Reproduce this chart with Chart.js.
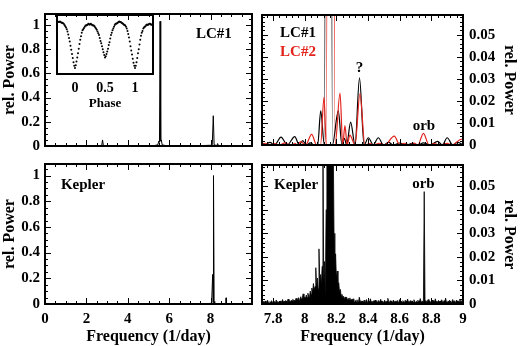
<!DOCTYPE html>
<html>
<head>
<meta charset="utf-8">
<script src="https://cdn.jsdelivr.net/npm/chart.js@4.4.1/dist/chart.umd.min.js"></script>
<style>
  body { margin: 0; background: #fff; }
  #fig { position: relative; width: 520px; height: 346px; overflow: hidden; }
  #fig canvas { position: absolute; }
</style>
</head>
<body>
<div id="fig">
  <canvas id="lcFull" width="256" height="160" style="left:0;top:0"></canvas>
  <canvas id="lcZoom" width="264" height="160" style="left:256px;top:0"></canvas>
  <canvas id="kepFull" width="256" height="196" style="left:0;top:150px"></canvas>
  <canvas id="kepZoom" width="264" height="196" style="left:256px;top:150px"></canvas>
  <canvas id="phase" width="110" height="103" style="left:50px;top:10px"></canvas>
</div>
<script>
// LC#1 amplitude spectrum, full range (1/day, rel. power)
const lc1Freq  = [0, 0.5, 1.0, 1.5, 2.0, 2.5, 2.74, 2.78, 2.82, 3.2, 4.0, 4.8, 5.3, 5.45, 5.5, 5.53, 5.56, 5.59, 5.62, 5.66, 5.8, 6.5, 7.5, 8.0, 8.08, 8.13, 8.17, 8.3, 8.34, 8.38, 9.0, 10];
const lc1Power = [0.002, 0.001, 0.003, 0.002, 0.002, 0.003, 0.004, 0.05, 0.004, 0.002, 0.002, 0.003, 0.004, 0.01, 0.04, 0.03, 1.03, 0.04, 0.05, 0.01, 0.004, 0.002, 0.003, 0.006, 0.01, 0.25, 0.01, 0.003, 0.02, 0.003, 0.002, 0.001];

// Kepler spectrum, full range
const keplerFreq  = [0, 0.5, 1.1, 1.15, 1.2, 1.65, 1.7, 1.75, 2.7, 2.75, 2.8, 4.0, 5.5, 6.5, 7.8, 8.05, 8.1, 8.12, 8.14, 8.17, 8.2, 8.74, 8.75, 8.76, 9.5, 10];
const keplerPower = [0.001, 0.0005, 0.001, 0.006, 0.001, 0.001, 0.005, 0.001, 0.001, 0.004, 0.001, 0.001, 0.002, 0.001, 0.002, 0.006, 0.23, 0.01, 1.0, 0.02, 0.004, 0.001, 0.048, 0.001, 0.001, 0.0005];

// zoom around the main peak: LC#1 and LC#2
const lc1ZoomFreq  = [7.73, 7.75, 7.78, 7.81, 7.85, 7.89, 7.937, 7.965, 7.987, 8.01, 8.035, 8.06, 8.082, 8.101, 8.124, 8.15, 8.175, 8.212, 8.235, 8.25, 8.265, 8.29, 8.318, 8.346, 8.375, 8.402, 8.433, 8.465, 8.497, 8.53, 8.56, 8.6, 8.64, 8.68, 8.715, 8.75, 8.79, 8.84, 8.87, 8.9, 8.935, 8.965, 9.0];
const lc1ZoomPower = [0.001, 0.0002, 0.0012, 0, 0.0036, 0, 0.0038, 0, 0.002, 0, 0.001, 0, 0, 0.0155, 0, 1.0, 0, 0.0155, 0, 0.003, 0, 0.0104, 0, 0.0305, 0, 0.0033, 0, 0.0033, 0, 0.0012, 0, 0.0009, 0, 0.0007, 0, 0.001, 0, 0.0016, 0, 0.0033, 0, 0.0012, 0.0002];
const lc2ZoomFreq  = [7.73, 7.75, 7.78, 7.81, 7.84, 7.875, 7.91, 7.94, 7.955, 7.975, 8.005, 8.044, 8.075, 8.10, 8.122, 8.136, 8.163, 8.192, 8.223, 8.24, 8.254, 8.268, 8.285, 8.318, 8.349, 8.38, 8.41, 8.44, 8.47, 8.505, 8.566, 8.6, 8.63, 8.66, 8.69, 8.715, 8.75, 8.785, 8.82, 8.85, 8.9, 8.93, 8.99, 9.0];
const lc2ZoomPower = [0.0002, 0.0008, 0, 0.0006, 0, 0.001, 0, 0.0006, 0, 0.0015, 0, 0.0048, 0, 0, 0.0217, 0, 1.0, 0, 0.0236, 0, 0.0088, 0, 0.0045, 0, 0.0233, 0, 0.0006, 0, 0.0008, 0, 0.004, 0, 0.0008, 0, 0.0009, 0, 0.0053, 0, 0.0006, 0, 0.0007, 0, 0.0026, 0.0024];

// Kepler zoom, sampled every 0.005 1/day from 7.73
const kepZoomStart = 7.73;
const kepZoomStep = 0.005;
const kepZoomPower = [
  0.0008,0.0004,0.0011,0.0006,0.0013,0.0005,0.0009,0.0016,0.0007,0.0003,
  0.0010,0.0006,0.0014,0.0008,0.0005,0.0012,0.0009,0.0004,0.0017,0.0007,
  0.0011,0.0005,0.0009,0.0013,0.0006,0.0010,0.0019,0.0008,0.0012,0.0006,
  0.0015,0.0009,0.0011,0.0021,0.0010,0.0014,0.0008,0.0016,0.0012,0.0020,
  0.0011,0.0017,0.0013,0.0024,0.0015,0.0019,0.0027,0.0016,
  0.0022,0.0031,0.0018,0.0026,0.0043,0.0021,0.0030,0.0024,0.0038,0.0027,0.0046,0.0032,0.0029,
  0.0055,0.0041,0.0068,0.0049,0.0087,0.0060,0.0074,
  0.0154,0.0072,0.0110,0.0065,0.0234,0.0090,0.0125,0.0082,0.0160,0.0700,0.0100,0.0180,0.0030,0.0400,
  0.090,0.075,0.100,0.080,0.110,0.065,0.095,0.085,0.070,
  0.0300,0.0175,0.0213,0.0110,0.0140,0.0075,0.0090,0.0050,0.0062,0.0035,
  0.0041,0.0026,0.0033,0.0019,0.0030,0.0022,0.0028,0.0015,0.0024,0.0018,0.0026,0.0012,0.0020,0.0016,0.0022,
  0.0012,0.0007,0.0015,0.0009,0.0018,0.0006,0.0011,0.0029,0.0010,0.0014,
  0.0008,0.0013,0.0005,0.0016,0.0010,0.0007,0.0019,0.0011,0.0006,0.0013,
  0.0009,0.0022,0.0008,0.0012,0.0005,0.0014,0.0010,0.0017,0.0007,0.0011,
  0.0006,0.0015,0.0009,0.0012,0.0020,0.0008,0.0013,0.0006,0.0010,0.0016,
  0.0007,0.0012,0.0009,0.0024,0.0011,0.0006,0.0014,0.0008,0.0012,0.0005,
  0.0017,0.0010,0.0007,0.0013,0.0009,0.0015,0.0006,0.0011,0.0019,0.0008,
  0.0012,0.0007,0.0014,0.0010,0.0005,0.0016,0.0009,0.0012,0.0021,0.0008,
  0.0011,0.0006,0.0015,0.0009,0.0013,0.0007,0.0018,0.0010,0.0006,0.0012,
  0.0009,0.0016,0.0008,0.0011,0.0023,0.0010,0.0007,0.0013,0.0009,
  0.0477,
  0.0010,0.0015,0.0007,0.0012,0.0019,0.0008,0.0013,0.0006,0.0011,0.0017,
  0.0009,0.0014,0.0007,0.0022,0.0010,0.0012,0.0006,0.0015,0.0009,0.0013,
  0.0008,0.0018,0.0011,0.0006,0.0014,0.0009,0.0025,0.0010,0.0007,0.0013,
  0.0008,0.0016,0.0011,0.0006,0.0012,0.0019,0.0009,0.0014,0.0007,0.0011,
  0.0017,0.0008,0.0013,0.0010,0.0021,0.0009,0.0012,0.0015,0.0008
];

// inset: phased light curve, every 0.0125 in phase from -0.3
const phaseStart = -0.3;
const phaseStep = 0.0125;
const phaseFlux = [
  0.87,0.89,0.88,0.88,0.89,0.88,0.87,0.87,0.86,0.85,0.83,0.81,
  0.79,0.76,0.72,0.67,0.61,0.55,0.48,0.41,0.34,0.27,0.20,0.14,
  0.10,0.15,0.21,0.28,0.35,0.43,0.51,0.58,0.64,0.70,0.74,0.76,
  0.78,0.80,0.82,0.82,0.83,0.84,0.85,0.84,0.84,0.85,0.84,0.83,
  0.82,0.82,0.81,0.79,0.77,0.75,0.72,0.69,0.66,0.61,0.56,0.52,
  0.47,0.42,0.37,0.32,0.28,0.30,0.34,0.38,0.43,0.49,0.54,0.60,
  0.66,0.70,0.74,0.77,0.80,0.83,0.85,0.85,0.86,0.87,0.88,0.89,
  0.88,0.88,0.87,0.86,0.85,0.84,0.83,0.82,0.80,0.77,0.73,0.68,
  0.62,0.55,0.47,0.40,0.33,0.26,0.19,0.14,0.10,0.14,0.20,0.27,
  0.35,0.42,0.50,0.58,0.65,0.70,0.73,0.77,0.79,0.80,0.81,0.83,
  0.84,0.83,0.84,0.85,0.85,0.84,0.84,0.83,0.82
];

// tick labels
const fullTicksX = [0, 2, 4, 6, 8];
const powerTicks = [0, 0.2, 0.4, 0.6, 0.8, 1];
const zoomTicksX = [7.8, 8, 8.2, 8.4, 8.6, 8.8, 9];
const zoomPowerTicks = [0, 0.01, 0.02, 0.03, 0.04, 0.05];
const phaseTicks = [0, 0.5, 1];

const RED = '#e3231c';

Chart.defaults.font.family = "'Liberation Serif', 'Times New Roman', serif";
Chart.defaults.font.weight = 'bold';
Chart.defaults.color = '#000';

const fmt = v => String(+Number(v).toFixed(3));
const pts = (xs, ys) => xs.map((x, i) => ({x: x, y: ys[i]}));

function steps(min, max, step) {
  const out = [];
  for (let k = Math.ceil(min / step - 1e-6); k * step <= max + 1e-6; k++) out.push(k * step);
  return out;
}

// box around the plot with inward ticks on all four sides
function frameTicks(t, border) {
  return {
    id: 'frameTicks',
    afterDatasetsDraw(chart) {
      const {ctx, chartArea: a} = chart;
      const xs = chart.scales.x, ys = chart.scales.y;
      ctx.save();
      ctx.strokeStyle = '#000';
      if (t) {
        ctx.lineWidth = 1;
        ctx.beginPath();
        [[t.xMinor, 3], [t.xMajor, 6]].forEach(([step, len]) => {
          steps(xs.min, xs.max, step).forEach(v => {
            const px = Math.round(xs.getPixelForValue(v)) + 0.5;
            ctx.moveTo(px, a.bottom); ctx.lineTo(px, a.bottom - len);
            ctx.moveTo(px, a.top); ctx.lineTo(px, a.top + len);
          });
        });
        [[t.yMinor, 3], [t.yMajor, 6]].forEach(([step, len]) => {
          steps(ys.min, ys.max, step).forEach(v => {
            const py = Math.round(ys.getPixelForValue(v)) + 0.5;
            ctx.moveTo(a.left, py); ctx.lineTo(a.left + len, py);
            ctx.moveTo(a.right, py); ctx.lineTo(a.right - len, py);
          });
        });
        ctx.stroke();
      }
      ctx.lineWidth = border;
      ctx.strokeRect(a.left, a.top, a.right - a.left, a.bottom - a.top);
      ctx.restore();
    }
  };
}

// text labels placed in data coordinates
function panelText(items) {
  return {
    id: 'panelText',
    afterDraw(chart) {
      const {ctx} = chart;
      const xs = chart.scales.x, ys = chart.scales.y;
      ctx.save();
      ctx.font = "bold 15px 'Liberation Serif', serif";
      ctx.textBaseline = 'middle';
      items.forEach(it => {
        ctx.fillStyle = it.color || '#000';
        ctx.textAlign = it.align || 'center';
        ctx.fillText(it.text, xs.getPixelForValue(it.x), ys.getPixelForValue(it.y));
      });
      ctx.restore();
    }
  };
}

function makePanel(id, datasets, p) {
  return new Chart(document.getElementById(id), {
    type: 'line',
    data: {datasets: datasets},
    options: {
      responsive: false,
      animation: false,
      events: [],
      layout: {padding: p.padding},
      plugins: {legend: {display: false}, tooltip: {enabled: false}},
      scales: {
        x: {
          type: 'linear', min: p.xMin, max: p.xMax,
          grid: {display: false, drawTicks: false},
          border: {display: false},
          afterFit: s => { s.height = p.xHeight; },
          afterBuildTicks: s => { s.ticks = p.xTicks.map(v => ({value: v})); },
          ticks: {display: !!p.xTitle, padding: p.xPad || 6, font: {size: p.tickSize || 15}, callback: fmt},
          title: {display: !!p.xTitle, text: p.xTitle, font: {size: p.titleSize || 16}, padding: {top: 0, bottom: p.xTitlePad || 0}}
        },
        y: {
          type: 'linear', min: p.yMin, max: p.yMax,
          display: p.yPos !== null,
          position: p.yPos || 'left',
          grid: {display: false, drawTicks: false},
          border: {display: false},
          afterFit: s => { if (p.yWidth) s.width = p.yWidth; },
          afterBuildTicks: s => { s.ticks = p.yTicks.map(v => ({value: v})); },
          ticks: {padding: p.yPos === 'right' ? 6 : 5, font: {size: 15}, callback: fmt},
          title: {display: true, text: 'rel. Power', font: {size: 16}, padding: {top: p.yPos === 'right' ? 1 : 0, bottom: 0}}
        }
      }
    },
    plugins: [frameTicks(p.ticks, p.border || 2), panelText(p.labels || [])]
  });
}

const line = (data, color, width, extra) => Object.assign({
  data: data, borderColor: color, borderWidth: width, pointRadius: 0, fill: false
}, extra || {});

const fullTicks = {xMajor: 2, xMinor: 0.5, yMajor: 0.2, yMinor: 0.05};
const zoomTicks = {xMajor: 0.2, xMinor: 0.04, yMajor: 0.01, yMinor: 0.002};

makePanel('lcFull', [line(pts(lc1Freq, lc1Power), '#000', 1)], {
  padding: {left: 0, top: 5, right: 4, bottom: 0},
  xMin: 0, xMax: 10, xTicks: fullTicksX, xHeight: 5,
  yMin: 0, yMax: 1.09, yTicks: powerTicks, yPos: 'left', yWidth: 45,
  ticks: fullTicks,
  labels: [{text: 'LC#1', x: 8.16, y: 0.923}]
});

makePanel('kepFull', [line(pts(keplerFreq, keplerPower), '#000', 1)], {
  padding: {left: 0, top: 5, right: 4, bottom: 0},
  xMin: 0, xMax: 10, xTicks: fullTicksX, xHeight: 42, xTitle: 'Frequency (1/day)',
  yMin: 0, yMax: 1.09, yTicks: powerTicks, yPos: 'left', yWidth: 45,
  ticks: fullTicks,
  labels: [{text: 'Kepler', x: 0.77, y: 0.929, align: 'left'}]
});

makePanel('lcZoom', [
  line(pts(lc2ZoomFreq, lc2ZoomPower), RED, 1.2, {cubicInterpolationMode: 'monotone'}),
  line(pts(lc1ZoomFreq, lc1ZoomPower), '#000', 1.2, {cubicInterpolationMode: 'monotone'})
], {
  padding: {left: 6, top: 5, right: 0, bottom: 0},
  xMin: 7.73, xMax: 9.0, xTicks: zoomTicksX, xHeight: 5,
  yMin: 0, yMax: 0.059, yTicks: zoomPowerTicks, yPos: 'right', yWidth: 57,
  ticks: zoomTicks,
  labels: [
    {text: 'LC#1', x: 7.844, y: 0.0507, align: 'left'},
    {text: 'LC#2', x: 7.844, y: 0.0423, align: 'left', color: RED},
    {text: '?', x: 8.346, y: 0.035},
    {text: 'orb', x: 8.753, y: 0.0087}
  ]
});

const kepZoomFreq = kepZoomPower.map((v, i) => kepZoomStart + i * kepZoomStep);
makePanel('kepZoom', [
  line(pts(kepZoomFreq, kepZoomPower), '#000', 0.8, {fill: 'origin', backgroundColor: '#000'})
], {
  padding: {left: 6, top: 5, right: 0, bottom: 0},
  xMin: 7.73, xMax: 9.0, xTicks: zoomTicksX, xHeight: 42, xTitle: 'Frequency (1/day)',
  yMin: 0, yMax: 0.059, yTicks: zoomPowerTicks, yPos: 'right', yWidth: 57,
  ticks: zoomTicks,
  labels: [
    {text: 'Kepler', x: 7.806, y: 0.0503, align: 'left'},
    {text: 'orb', x: 8.75, y: 0.0507}
  ]
});

// inset light curve
const phaseX = phaseFlux.map((v, i) => phaseStart + i * phaseStep);
makePanel('phase', [{
  data: pts(phaseX, phaseFlux), showLine: false, pointRadius: 1,
  pointBackgroundColor: '#000', pointBorderWidth: 0
}], {
  padding: {left: 7, top: 5, right: 7, bottom: 0},
  xMin: -0.3, xMax: 1.3, xTicks: phaseTicks, xHeight: 39, xTitle: 'Phase',
  xPad: 6, xTitlePad: 2, tickSize: 14, titleSize: 13,
  yMin: 0, yMax: 1, yTicks: [], yPos: null,
  ticks: null, border: 2
});
</script>
</body>
</html>
